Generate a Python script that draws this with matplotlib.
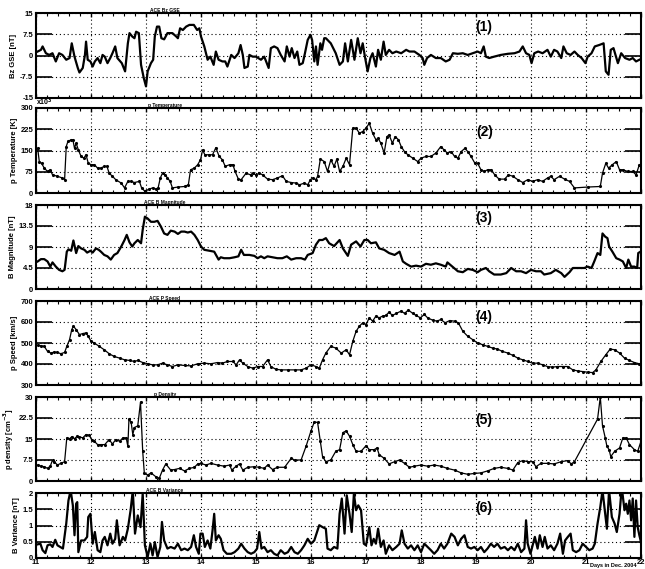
import numpy as np
import matplotlib
matplotlib.use("Agg")
import matplotlib.pyplot as plt
from matplotlib.ticker import MultipleLocator

plt.rcParams["font.family"] = ["Liberation Sans", "DejaVu Sans"]
plt.rcParams["font.weight"] = "bold"
plt.rcParams["axes.labelweight"] = "bold"

# ---- data (day of Dec. 2004, value) ----
bz_day = [11.03, 11.09, 11.12, 11.18, 11.24, 11.30, 11.36, 11.42, 11.48, 11.55, 11.61, 11.65, 11.70, 11.76,
          11.79, 11.85, 11.89, 11.91, 11.94, 11.99, 12.03, 12.07, 12.12, 12.17, 12.21, 12.25, 12.30, 12.35,
          12.39, 12.44, 12.48, 12.56, 12.62, 12.67, 12.70, 12.75, 12.79, 12.82, 12.87, 12.91, 12.96, 13.00,
          13.03, 13.09, 13.13, 13.16, 13.20, 13.24, 13.28, 13.33, 13.39, 13.48, 13.55, 13.58, 13.62, 13.67,
          13.73, 13.79, 13.87, 13.93, 13.97, 14.00, 14.06, 14.12, 14.17, 14.23, 14.27, 14.32, 14.39, 14.44,
          14.48, 14.55, 14.61, 14.68, 14.72, 14.76, 14.79, 14.85, 14.88, 14.94, 15.00, 15.04, 15.09, 15.15,
          15.23, 15.27, 15.33, 15.39, 15.45, 15.52, 15.56, 15.61, 15.65, 15.70, 15.75, 15.79, 15.85, 15.89,
          15.94, 15.99, 16.02, 16.06, 16.09, 16.12, 16.17, 16.20, 16.24, 16.27, 16.36, 16.45, 16.52, 16.58,
          16.62, 16.67, 16.73, 16.79, 16.85, 16.90, 16.94, 16.98, 17.03, 17.08, 17.12, 17.18, 17.22, 17.27,
          17.32, 17.36, 17.42, 17.48, 17.55, 17.64, 17.73, 17.79, 17.88, 17.97, 18.03, 18.06, 18.11, 18.18,
          18.27, 18.36, 18.45, 18.52, 18.58, 18.67, 18.76, 18.85, 18.94, 19.03, 19.09, 19.14, 19.18, 19.24,
          19.33, 19.45, 19.58, 19.70, 19.79, 19.85, 19.91, 19.97, 20.01, 20.06, 20.13, 20.21, 20.30, 20.36,
          20.42, 20.48, 20.55, 20.59, 20.65, 20.72, 20.79, 20.85, 20.92, 20.99, 21.03, 21.10, 21.16, 21.24,
          21.32, 21.36, 21.41, 21.45, 21.50, 21.58, 21.64, 21.71, 21.79, 21.85, 21.91, 21.97]
bz_val = [1.4, 2.0, 3.2, 0.8, 0.2, 0.8, -2.1, 0.8, 0.2, -1.5, -0.9, 4.3, -0.4, -4.4,
          -6.0, -4.4, 0.2, 4.9, -1.5, -2.1, -3.9, -2.1, -0.9, -2.7, 0.2, -0.4, -2.7, -0.9,
          0.8, 3.2, -0.9, -2.7, -5.6, 4.3, 7.9, 6.7, 6.1, 8.4, 7.9, -3.3, -8.0, -10.9,
          -5.6, -2.7, -1.5, 6.7, 10.2, 10.2, 6.1, 5.7, 7.9, 7.9, 6.7, 6.1, 9.6, 9.0,
          10.2, 10.8, 10.8, 9.0, 9.6, 6.7, 3.2, -1.5, -0.4, -3.3, 1.4, -1.5, -2.1, -2.1,
          -3.9, 0.2, -0.9, 0.8, 3.7, 0.2, -4.4, -3.9, 0.2, -0.4, -0.4, -0.9, -1.5, -0.4,
          -4.4, 2.6, 3.2, 2.6, 0.2, -2.1, 3.2, -0.4, 2.6, -0.9, 1.4, -3.3, -2.7, 0.8,
          5.5, 7.3, 5.5, -2.1, 3.2, -3.3, 4.3, 2.0, 6.1, 6.1, 4.3, 0.8, -3.3, -2.1,
          4.3, -2.1, 5.5, -1.5, 6.1, 0.8, 4.3, -0.4, -5.6, -0.9, 0.8, -3.9, 2.0, -1.5,
          4.9, 0.2, 2.0, 0.8, 1.4, 0.8, 2.0, 1.4, 1.4, 0.2, -0.9, -3.3, -0.9, 0.2,
          -0.9, -0.9, -2.1, -1.5, 0.8, 0.6, 0.8, 0.2, 0.8, 1.4, 0.8, 3.2, -0.4, -0.9,
          -0.4, 0.2, 0.6, 0.8, 1.4, 3.2, 0.8, 0.2, -2.7, 0.8, 1.4, 0.8, 2.0, -0.4,
          2.0, 1.4, -0.9, 3.2, 0.8, 0.2, 1.4, 0.2, -0.9, -2.7, -0.4, 0.8, 3.2, 3.7,
          4.3, -5.6, -6.8, 2.0, 2.6, -2.7, 0.8, -0.9, -1.5, -0.9, -2.1, -1.5]

temp_day = [11.03, 11.06, 11.10, 11.15, 11.21, 11.26, 11.30, 11.39, 11.48, 11.52, 11.55, 11.58, 11.64, 11.67,
            11.70, 11.73, 11.77, 11.82, 11.87, 11.91, 11.95, 12.00, 12.06, 12.12, 12.18, 12.24, 12.29, 12.33,
            12.39, 12.45, 12.55, 12.61, 12.67, 12.73, 12.79, 12.88, 12.92, 12.98, 13.06, 13.12, 13.18, 13.22,
            13.26, 13.30, 13.35, 13.39, 13.44, 13.48, 13.58, 13.70, 13.77, 13.81, 13.88, 13.94, 13.99, 14.03,
            14.07, 14.15, 14.21, 14.27, 14.33, 14.39, 14.44, 14.52, 14.58, 14.62, 14.68, 14.73, 14.82, 14.90,
            14.94, 15.00, 15.06, 15.12, 15.21, 15.30, 15.39, 15.48, 15.55, 15.64, 15.73, 15.79, 15.88, 15.94,
            15.99, 16.03, 16.09, 16.12, 16.17, 16.24, 16.30, 16.36, 16.42, 16.47, 16.52, 16.58, 16.64, 16.70,
            16.76, 16.82, 16.88, 16.94, 17.00, 17.06, 17.12, 17.18, 17.22, 17.27, 17.33, 17.38, 17.42, 17.48,
            17.53, 17.59, 17.64, 17.70, 17.76, 17.85, 17.94, 18.00, 18.09, 18.18, 18.27, 18.36, 18.42, 18.48,
            18.55, 18.61, 18.67, 18.73, 18.80, 18.85, 18.91, 18.98, 19.03, 19.09, 19.15, 19.21, 19.28, 19.34,
            19.42, 19.52, 19.59, 19.67, 19.76, 19.85, 19.94, 20.03, 20.12, 20.21, 20.30, 20.36, 20.42, 20.52,
            20.61, 20.70, 20.79, 21.03, 21.26, 21.30, 21.36, 21.41, 21.48, 21.55, 21.61, 21.67, 21.76, 21.85,
            21.91, 21.97]
temp_val = [158, 111, 105, 88, 76, 82, 64, 59, 53, 47, 164, 182, 188, 188,
            158, 176, 152, 129, 123, 135, 105, 100, 100, 88, 88, 94, 94, 70,
            59, 47, 35, 18, 41, 41, 37, 41, 18, 6, 14, 18, 14, 18,
            53, 70, 64, 53, 41, 18, 21, 23, 29, 82, 88, 100, 117, 152,
            135, 135, 135, 160, 129, 117, 94, 100, 100, 76, 49, 47, 70, 64,
            70, 64, 70, 64, 49, 47, 53, 61, 41, 37, 35, 29, 35, 29,
            47, 53, 47, 59, 120, 111, 76, 117, 94, 120, 76, 94, 123, 100,
            229, 229, 211, 217, 229, 246, 211, 188, 193, 176, 141, 199, 205, 176,
            199, 188, 164, 146, 135, 123, 111, 123, 129, 129, 141, 164, 152, 141,
            146, 129, 123, 146, 158, 146, 129, 105, 105, 82, 76, 82, 82, 64,
            49, 49, 64, 59, 47, 37, 47, 41, 47, 41, 53, 59, 47, 59,
            49, 41, 18, 21, 23, 70, 105, 88, 100, 111, 82, 82, 76, 76,
            64, 100]

bmag_day = [11.03, 11.09, 11.15, 11.21, 11.26, 11.30, 11.36, 11.42, 11.48, 11.52, 11.56, 11.59, 11.64, 11.68,
            11.73, 11.77, 11.82, 11.88, 11.93, 11.99, 12.03, 12.09, 12.14, 12.18, 12.24, 12.30, 12.36, 12.42,
            12.48, 12.55, 12.61, 12.65, 12.70, 12.75, 12.79, 12.85, 12.91, 12.94, 12.98, 13.03, 13.09, 13.15,
            13.21, 13.27, 13.33, 13.39, 13.45, 13.52, 13.58, 13.64, 13.70, 13.76, 13.82, 13.88, 13.94, 14.00,
            14.06, 14.15, 14.24, 14.32, 14.36, 14.42, 14.52, 14.61, 14.68, 14.73, 14.78, 14.88, 14.97, 15.03,
            15.09, 15.15, 15.21, 15.30, 15.39, 15.48, 15.56, 15.64, 15.73, 15.82, 15.89, 15.94, 16.03, 16.09,
            16.15, 16.21, 16.27, 16.33, 16.42, 16.52, 16.58, 16.67, 16.73, 16.82, 16.90, 16.97, 17.03, 17.09,
            17.18, 17.24, 17.33, 17.42, 17.52, 17.61, 17.67, 17.73, 17.82, 17.91, 18.00, 18.09, 18.18, 18.27,
            18.36, 18.45, 18.48, 18.58, 18.67, 18.76, 18.85, 18.94, 19.03, 19.09, 19.18, 19.24, 19.33, 19.45,
            19.55, 19.64, 19.73, 19.82, 19.91, 20.00, 20.09, 20.18, 20.24, 20.36, 20.45, 20.55, 20.61, 20.70,
            20.76, 20.88, 20.97, 21.03, 21.10, 21.15, 21.21, 21.26, 21.30, 21.35, 21.39, 21.42, 21.48, 21.55,
            21.61, 21.67, 21.73, 21.77, 21.82, 21.88, 21.93, 21.95, 21.99]
bmag_val = [5.9, 6.4, 6.4, 5.9, 4.8, 5.7, 4.8, 4.1, 3.8, 4.1, 8.0, 8.5, 8.2, 10.4,
            7.7, 9.2, 8.7, 8.4, 7.8, 8.2, 7.8, 8.7, 8.4, 8.0, 7.3, 7.0, 6.3, 7.3,
            7.7, 9.1, 10.5, 11.6, 10.0, 9.1, 9.8, 10.5, 9.8, 12.7, 15.5, 15.1, 14.4, 14.4,
            14.6, 13.4, 11.9, 11.6, 12.5, 12.3, 11.8, 12.3, 12.3, 12.1, 12.3, 11.6, 10.5, 9.1,
            8.4, 8.2, 8.0, 6.3, 6.8, 6.6, 6.6, 6.8, 7.0, 8.4, 7.3, 7.3, 7.1, 6.6,
            7.0, 6.6, 7.0, 6.8, 6.6, 6.6, 7.0, 6.3, 6.6, 6.6, 6.3, 7.3, 7.7, 9.5,
            10.5, 10.5, 10.9, 9.8, 9.2, 10.5, 8.7, 7.1, 9.5, 10.2, 9.1, 10.5, 10.5, 9.8,
            10.0, 8.7, 8.4, 7.7, 7.3, 8.0, 5.9, 5.4, 4.8, 5.0, 4.8, 5.4, 5.2, 5.5,
            5.2, 4.8, 5.7, 4.7, 3.8, 3.6, 4.3, 4.1, 3.6, 4.1, 4.5, 3.8, 3.1, 3.1,
            3.4, 4.5, 3.8, 3.8, 3.4, 4.1, 3.8, 3.8, 3.1, 3.4, 4.1, 3.4, 2.6, 3.6,
            4.5, 4.5, 4.5, 4.8, 4.5, 5.9, 7.7, 7.3, 11.9, 11.2, 10.9, 9.1, 8.0, 6.6,
            6.3, 5.9, 4.5, 6.3, 4.8, 4.8, 4.5, 7.7, 8.0]

speed_day = [11.03, 11.09, 11.15, 11.21, 11.27, 11.33, 11.39, 11.45, 11.52, 11.56, 11.61, 11.65, 11.68, 11.73,
             11.79, 11.85, 11.91, 11.95, 12.00, 12.06, 12.15, 12.24, 12.33, 12.42, 12.52, 12.61, 12.70, 12.79,
             12.85, 12.94, 13.03, 13.12, 13.21, 13.30, 13.39, 13.48, 13.58, 13.70, 13.82, 13.94, 14.06, 14.18,
             14.30, 14.39, 14.48, 14.58, 14.64, 14.70, 14.76, 14.85, 14.94, 15.03, 15.12, 15.21, 15.27, 15.36,
             15.45, 15.58, 15.70, 15.82, 15.91, 16.00, 16.09, 16.15, 16.21, 16.27, 16.36, 16.45, 16.55, 16.64,
             16.70, 16.76, 16.82, 16.88, 16.94, 17.00, 17.06, 17.12, 17.18, 17.24, 17.30, 17.36, 17.42, 17.48,
             17.55, 17.64, 17.70, 17.77, 17.85, 17.91, 17.99, 18.06, 18.12, 18.21, 18.29, 18.36, 18.44, 18.52,
             18.61, 18.68, 18.76, 18.85, 18.94, 19.03, 19.12, 19.21, 19.30, 19.39, 19.48, 19.58, 19.67, 19.76,
             19.85, 19.94, 20.03, 20.12, 20.21, 20.30, 20.39, 20.48, 20.58, 20.67, 20.76, 20.85, 20.94, 21.03,
             21.12, 21.18, 21.27, 21.36, 21.44, 21.52, 21.61, 21.70, 21.79, 21.88, 21.97]
speed_val = [489, 487, 484, 460, 452, 457, 455, 449, 455, 484, 516, 564, 580, 564,
             540, 545, 548, 532, 508, 500, 484, 468, 449, 436, 428, 420, 417, 412,
             417, 407, 401, 396, 396, 404, 396, 388, 396, 393, 391, 401, 404, 401,
             407, 404, 412, 412, 396, 420, 404, 388, 380, 388, 388, 420, 388, 375,
             372, 372, 372, 372, 380, 396, 388, 380, 420, 452, 484, 476, 452, 468,
             444, 508, 556, 580, 596, 588, 620, 604, 628, 620, 628, 631, 647, 631,
             641, 652, 641, 657, 641, 631, 620, 636, 620, 609, 604, 612, 596, 607,
             604, 596, 556, 532, 516, 500, 492, 484, 476, 471, 460, 452, 441, 428,
             420, 412, 404, 404, 396, 388, 385, 388, 388, 388, 372, 367, 364, 361,
             359, 372, 412, 444, 471, 468, 452, 428, 417, 407, 401]

dens_day = [11.03, 11.09, 11.15, 11.21, 11.26, 11.30, 11.33, 11.39, 11.45, 11.52, 11.56, 11.61, 11.65, 11.70,
            11.75, 11.79, 11.85, 11.91, 11.97, 12.01, 12.06, 12.12, 12.18, 12.25, 12.33, 12.39, 12.45, 12.52,
            12.58, 12.64, 12.67, 12.69, 12.73, 12.76, 12.79, 12.85, 12.90, 12.94, 12.97, 13.03, 13.09, 13.18,
            13.24, 13.30, 13.36, 13.45, 13.52, 13.61, 13.70, 13.79, 13.88, 13.94, 14.00, 14.09, 14.18, 14.30,
            14.42, 14.52, 14.56, 14.64, 14.70, 14.76, 14.85, 14.97, 15.06, 15.15, 15.21, 15.30, 15.39, 15.52,
            15.64, 15.70, 15.82, 15.91, 16.00, 16.06, 16.12, 16.17, 16.21, 16.27, 16.36, 16.45, 16.52, 16.58,
            16.64, 16.70, 16.76, 16.82, 16.91, 17.00, 17.06, 17.15, 17.20, 17.24, 17.33, 17.42, 17.52, 17.61,
            17.70, 17.79, 17.88, 18.00, 18.12, 18.24, 18.36, 18.48, 18.61, 18.73, 18.85, 18.97, 19.09, 19.21,
            19.33, 19.45, 19.58, 19.67, 19.76, 19.85, 19.94, 20.03, 20.09, 20.18, 20.30, 20.42, 20.55, 20.67,
            20.73, 20.79, 21.21, 21.26, 21.30, 21.35, 21.38, 21.42, 21.45, 21.52, 21.61, 21.67, 21.73, 21.79,
            21.88, 21.94, 22.00]
dens_val = [5.7, 5.3, 5.1, 4.5, 5.3, 7.5, 6.9, 5.7, 6.3, 6.9, 15.4, 15.1, 15.8, 15.1,
            16.0, 15.8, 15.4, 16.6, 16.3, 14.8, 14.2, 13.0, 13.0, 13.0, 14.8, 13.2, 14.8, 14.2,
            15.4, 15.4, 12.4, 22.1, 20.9, 16.6, 19.1, 19.7, 28.2, 10.6, 2.7, 2.1, 2.9, 1.5,
            0.9, 3.9, 6.1, 3.9, 4.1, 4.5, 3.6, 4.5, 4.9, 6.1, 6.3, 5.7, 6.3, 5.7,
            5.3, 5.7, 3.9, 5.3, 6.1, 3.9, 4.9, 5.1, 4.9, 4.5, 5.7, 4.1, 4.9, 4.9,
            8.1, 7.5, 7.5, 12.4, 17.9, 21.1, 20.9, 14.2, 8.7, 6.9, 7.5, 10.6, 11.2, 17.3,
            17.9, 16.0, 13.0, 10.6, 10.6, 12.6, 11.2, 11.2, 11.8, 9.4, 8.1, 6.1, 6.9, 7.5,
            6.3, 4.9, 5.3, 5.7, 5.3, 5.7, 5.3, 4.5, 3.9, 2.9, 2.4, 2.7, 2.9, 3.6,
            4.5, 4.9, 4.5, 3.9, 6.6, 7.3, 6.9, 6.9, 5.1, 6.3, 6.3, 6.1, 6.9, 7.3,
            6.1, 6.9, 22.1, 30.0, 19.7, 15.4, 12.4, 11.2, 8.7, 10.6, 11.8, 15.4, 15.4, 13.0,
            11.2, 10.6, 14.2]

bvar_day = [11.03, 11.08, 11.12, 11.17, 11.21, 11.26, 11.30, 11.35, 11.39, 11.44, 11.49, 11.55, 11.59, 11.63,
            11.67, 11.70, 11.73, 11.75, 11.77, 11.82, 11.88, 11.93, 11.95, 11.99, 12.03, 12.07, 12.12, 12.17,
            12.21, 12.25, 12.30, 12.35, 12.39, 12.44, 12.47, 12.52, 12.58, 12.62, 12.67, 12.72, 12.76, 12.80,
            12.85, 12.90, 12.94, 12.98, 13.03, 13.08, 13.12, 13.16, 13.21, 13.26, 13.29, 13.33, 13.39, 13.45,
            13.52, 13.58, 13.64, 13.70, 13.76, 13.82, 13.87, 13.91, 13.96, 13.99, 14.03, 14.07, 14.12, 14.17,
            14.21, 14.24, 14.27, 14.32, 14.36, 14.41, 14.47, 14.55, 14.61, 14.68, 14.73, 14.79, 14.85, 14.91,
            14.97, 15.02, 15.06, 15.10, 15.15, 15.21, 15.27, 15.33, 15.39, 15.45, 15.52, 15.58, 15.64, 15.70,
            15.76, 15.82, 15.88, 15.94, 16.00, 16.06, 16.11, 16.15, 16.21, 16.27, 16.30, 16.36, 16.42, 16.48,
            16.52, 16.56, 16.61, 16.65, 16.70, 16.74, 16.78, 16.82, 16.86, 16.91, 16.96, 17.00, 17.06, 17.10,
            17.14, 17.18, 17.22, 17.27, 17.32, 17.36, 17.42, 17.48, 17.55, 17.61, 17.65, 17.70, 17.76, 17.82,
            17.88, 17.94, 18.00, 18.06, 18.12, 18.18, 18.24, 18.30, 18.36, 18.42, 18.48, 18.55, 18.61, 18.67,
            18.73, 18.79, 18.85, 18.91, 18.97, 19.03, 19.09, 19.15, 19.21, 19.27, 19.33, 19.39, 19.45, 19.52,
            19.58, 19.64, 19.70, 19.76, 19.82, 19.88, 19.91, 19.94, 19.99, 20.03, 20.07, 20.12, 20.16, 20.21,
            20.25, 20.30, 20.36, 20.42, 20.48, 20.53, 20.58, 20.62, 20.67, 20.72, 20.76, 20.82, 20.88, 20.94,
            21.00, 21.06, 21.12, 21.16, 21.21, 21.26, 21.30, 21.35, 21.38, 21.42, 21.47, 21.52, 21.56, 21.61,
            21.65, 21.70, 21.73, 21.76, 21.79, 21.82, 21.85, 21.88, 21.91, 21.94, 21.97, 22.00]
bvar_val = [0.42, 0.44, 0.24, 0.15, 0.39, 0.42, 0.34, 0.56, 0.39, 0.34, 0.29, 1.06, 1.77, 2.08,
            1.62, 0.70, 1.67, 1.72, 0.18, 0.54, 0.54, 0.65, 1.26, 1.36, 0.44, 0.80, 0.24, 0.18,
            0.54, 0.65, 0.39, 0.75, 0.44, 0.59, 1.16, 0.39, 0.65, 0.54, 0.90, 1.47, 2.08, 0.75,
            1.31, 0.95, 1.98, 0.39, 0.03, 0.44, 0.08, 0.49, 0.03, 0.34, 1.11, 0.54, 0.29, 0.34,
            0.29, 0.44, 0.24, 0.29, 0.24, 0.34, 0.70, 0.34, 0.13, 0.75, 0.75, 0.34, 0.54, 0.29,
            0.85, 1.36, 0.54, 0.70, 0.59, 0.24, 0.13, 0.13, 0.18, 0.29, 0.44, 0.29, 0.18, 0.13,
            0.18, 0.29, 0.80, 0.29, 0.34, 0.18, 0.24, 0.13, 0.08, 0.24, 0.13, 0.18, 0.34, 0.18,
            0.13, 0.24, 0.39, 0.59, 0.44, 0.54, 0.80, 1.01, 0.95, 0.90, 0.29, 0.24, 0.34, 0.29,
            1.36, 1.83, 0.75, 1.93, 1.36, 0.80, 1.98, 1.47, 1.62, 1.47, 0.44, 0.39, 0.95, 0.39,
            0.59, 0.44, 0.90, 0.34, 0.54, 0.13, 0.39, 0.24, 0.34, 0.44, 0.85, 0.44, 0.29, 0.39,
            0.24, 0.39, 0.18, 0.44, 0.34, 0.24, 0.13, 0.24, 0.44, 0.29, 0.44, 0.75, 0.65, 0.39,
            0.59, 0.70, 0.34, 0.29, 0.34, 0.24, 0.34, 0.18, 0.29, 0.44, 0.34, 0.44, 0.29, 0.34,
            0.24, 0.34, 0.24, 0.44, 0.18, 0.29, 1.16, 0.44, 0.13, 0.39, 0.65, 0.29, 0.70, 0.34,
            0.65, 0.29, 0.39, 0.24, 0.44, 0.75, 0.13, 0.54, 0.65, 0.75, 0.24, 0.18, 0.24, 0.44,
            0.34, 0.24, 0.29, 0.44, 1.06, 1.57, 2.08, 1.36, 0.90, 2.08, 1.26, 1.06, 0.80, 1.36,
            2.18, 1.47, 1.67, 1.36, 1.77, 1.16, 1.83, 0.65, 1.77, 0.95, 0.70, 0.49]

titles = ["ACE Bz GSE", "p Temperature", "ACE B Magnitude", "ACE P Speed", "p Density", "ACE B Variance"]
ylabels = ["Bz GSE [nT]", "p Temperature [K]", "B Magnitude [nT]", "p Speed [km/s]",
           "p density [cm$^{-3}$]", "B Variance [nT]"]
tags = ["(1)", "(2)", "(3)", "(4)", "(5)", "(6)"]
yticks = [[-15, -7.5, 0, 7.5, 15], [0, 75, 150, 225, 300], [0, 4.5, 9, 13.5, 18],
          [300, 400, 500, 600, 700], [0, 7.5, 15, 22.5, 30], [0, 0.5, 1, 1.5, 2]]
yticklabels = [["-15", "-7.5", "0", "7.5", "15"], ["0", "75", "150", "225", "300"],
               ["0", "4.5", "9", "13.5", "18"], ["300", "400", "500", "600", "700"],
               ["0", "7.5", "15", "22.5", "30"], ["0", "0.5", "1", "1.5", "2"]]
xticks = list(range(11, 23))

series = [(bz_day, bz_val), (temp_day, temp_val), (bmag_day, bmag_val),
          (speed_day, speed_val), (dens_day, dens_val), (bvar_day, bvar_val)]
dotted = [False, True, False, True, True, False]

W, H = 645, 569
fig = plt.figure(figsize=(W / 100, H / 100), dpi=100)

# panel extents in pixels (top, bottom)
rows = [(13, 98), (108, 193), (205, 289), (301, 385), (397, 481), (493, 558)]
left_px, right_px = 36, 641
tag_y = [0.835, 0.72, 0.845, 0.81, 0.73, 0.77]

for i, (top, bot) in enumerate(rows):
    ax = fig.add_axes([left_px / W, 1 - bot / H, (right_px - left_px) / W, (bot - top) / H])
    d, v = series[i]
    if dotted[i]:
        ax.plot(d, v, color="black", lw=0.9, marker=".", ms=2.5)
    else:
        ax.plot(d, v, color="black", lw=1.6)
    ax.set_xlim(11, 22)
    ax.set_ylim(yticks[i][0], yticks[i][-1])
    ax.set_yticks(yticks[i])
    ax.set_yticklabels(yticklabels[i], fontsize=5.5, fontweight="bold")
    ax.set_xticks(xticks)
    ax.xaxis.set_minor_locator(MultipleLocator(0.2))
    if i == len(rows) - 1:
        ax.set_xticklabels([str(t) for t in xticks], fontsize=5.5, fontweight="bold")
    else:
        ax.set_xticklabels([])
    ax.tick_params(axis="y", which="major", direction="in", length=11.5, width=1.2,
                   left=True, right=True, pad=2)
    ax.tick_params(axis="x", which="major", direction="in", length=3, width=1,
                   top=True, bottom=True, pad=1)
    ax.tick_params(axis="x", which="minor", direction="in", length=2, width=0.8,
                   top=True, bottom=True)
    ax.grid(True, which="major", color="black", linestyle=(0, (1, 2.5)), linewidth=0.8)
    for s in ax.spines.values():
        s.set_linewidth(1.5)
    ax.set_ylabel(ylabels[i], fontsize=5.5, fontweight="bold", labelpad=2)
    ax.text(0.213, 1.0, titles[i], transform=ax.transAxes, ha="center", va="bottom",
            fontsize=3.5, fontweight="bold")
    ax.text(19.15, yticks[i][0] + tag_y[i] * (yticks[i][-1] - yticks[i][0]), tags[i],
            ha="center", va="center", fontsize=10, fontweight="bold")
    if i == 1:
        ax.text(0.0, 1.0, "x10$^3$", transform=ax.transAxes, ha="left", va="bottom",
                fontsize=5, fontweight="bold")

fig.text(613.5 / W, 1 / H, "Days in Dec. 2004", ha="center", va="bottom",
         fontsize=4, fontweight="bold")

fig.savefig("out.png", dpi=100)
